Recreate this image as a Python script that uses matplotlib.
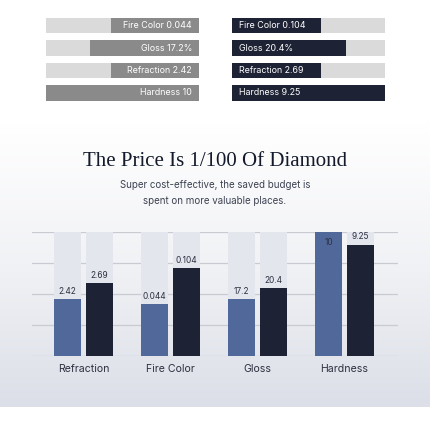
import matplotlib.pyplot as plt
import numpy as np
from matplotlib.colors import LinearSegmentedColormap

# top comparison bars (share of track filled)
top_labels_left = ["Fire Color 0.044", "Gloss 17.2%", "Refraction 2.42", "Hardness 10"]
top_fill_left = [0.575, 0.71, 0.575, 1.0]
top_labels_right = ["Fire Color 0.104", "Gloss 20.4%", "Refraction 2.69", "Hardness 9.25"]
top_fill_right = [0.58, 0.745, 0.58, 1.0]

# bottom grouped chart
categories = ["Refraction", "Fire Color", "Gloss", "Hardness"]
height_a = [46, 42, 46, 100]
height_b = [59, 71, 55, 90]
labels_a = ["2.42", "0.044", "17.2", "10"]
labels_b = ["2.69", "0.104", "20.4", "9.25"]

TITLE = "The Price Is 1/100 Of Diamond"
SUBTITLE = "Super cost-effective, the saved budget is\nspent on more valuable places."

W = H = 430
GRAY = "#8a8a8a"
TRACK = "#dadada"
NAVY = "#1d2234"
STEEL = "#51699a"
COL_TRACK = "#e3e6ed"
GRID = "#c8cbd2"
TEXT = "#2d3140"

plt.rcParams["font.family"] = ["Inter", "DejaVu Sans"]

fig = plt.figure(figsize=(W / 100, H / 100), dpi=100)
fig.patch.set_facecolor("white")


def px_axes(x0, y0, x1, y1, **kw):
    return fig.add_axes([x0 / W, 1 - y1 / H, (x1 - x0) / W, (y1 - y0) / H], **kw)


# soft gradient panel behind the title and the chart
bg = px_axes(0, 122, W, 407, zorder=0)
cmap = LinearSegmentedColormap.from_list("bg", ["#ffffff", "#f1f2f5", "#dcdfe8"])
bg.imshow(np.linspace(0, 1, 200).reshape(-1, 1), aspect="auto", cmap=cmap,
          extent=[0, 1, 0, 1], origin="upper")
bg.axis("off")

rows = np.arange(len(top_fill_left))

left = px_axes(46, 18, 199, 100.5, zorder=2)
left.barh(rows, [1] * len(rows), height=0.69, color=TRACK)
left.barh(rows, top_fill_left, height=0.69, color=GRAY)
for r, lab in zip(rows, top_labels_left):
    left.annotate(lab, (0, r), xytext=(-7, 0), textcoords="offset pixels",
                  ha="right", va="center", color="white", fontsize=6.4)
left.set_xlim(1, 0)
left.set_ylim(3.345, -0.345)
left.axis("off")

right = px_axes(232, 18, 385, 100.5, zorder=2)
right.barh(rows, [1] * len(rows), height=0.69, color=TRACK)
right.barh(rows, top_fill_right, height=0.69, color=NAVY)
for r, lab in zip(rows, top_labels_right):
    right.annotate(lab, (0, r), xytext=(7, 0), textcoords="offset pixels",
                   ha="left", va="center", color="white", fontsize=6.4)
right.set_xlim(0, 1)
right.set_ylim(3.345, -0.345)
right.axis("off")

# title and subtitle
fig.text(0.5, 1 - 161.5 / H, TITLE, ha="center", va="center", fontsize=15,
         family=["Liberation Serif"], color="#141a2b")
fig.text(0.5, 1 - 193 / H, SUBTITLE, ha="center", va="center", fontsize=7,
         color="#3d4252", linespacing=1.65)

# grouped bar chart
ax = px_axes(32, 232.3, 398, 356.3, zorder=2)
ax.patch.set_alpha(0)
x = np.arange(len(categories))
off = 0.184
bw = 0.31
ax.bar(x - off, [100] * len(x), width=bw, color=COL_TRACK, zorder=2)
ax.bar(x + off, [100] * len(x), width=bw, color=COL_TRACK, zorder=2)
ax.bar(x - off, height_a, width=bw, color=STEEL, zorder=3)
ax.bar(x + off, height_b, width=bw, color=NAVY, zorder=3)
for xi, h, lab in zip(x, height_a, labels_a):
    if h >= 100:
        ax.annotate(lab, (xi - off, h), xytext=(0, -4), textcoords="offset points",
                    ha="center", va="top", fontsize=6, color=TEXT, zorder=4)
    else:
        ax.annotate(lab, (xi - off, h), xytext=(0, 2.5), textcoords="offset points",
                    ha="center", va="bottom", fontsize=6, color=TEXT, zorder=4)
for xi, h, lab in zip(x, height_b, labels_b):
    ax.annotate(lab, (xi + off, h), xytext=(0, 2.5), textcoords="offset points",
                ha="center", va="bottom", fontsize=6, color=TEXT, zorder=4)
ax.set_xlim(-0.592, 3.615)
ax.set_ylim(0, 100)
ax.set_yticks([0, 25, 50, 75, 100])
ax.yaxis.grid(True, color=GRID, linewidth=0.9)
ax.set_axisbelow(True)
for sp in ax.spines.values():
    sp.set_visible(False)
ax.set_xticks(x)
ax.set_xticklabels(categories, fontsize=7.6, color=TEXT)
ax.tick_params(axis="x", length=0, pad=5.5)
ax.tick_params(axis="y", length=0, labelleft=False)

fig.savefig("out.png", dpi=100, facecolor="white")
